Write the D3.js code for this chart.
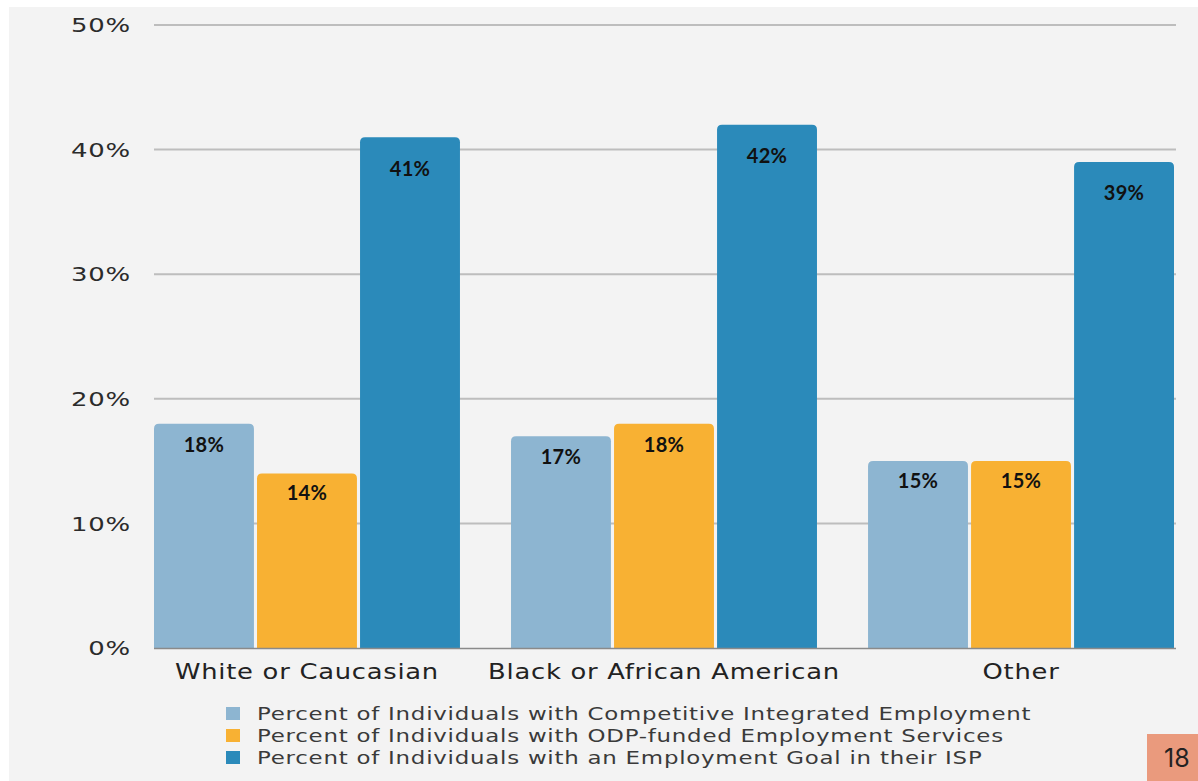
<!DOCTYPE html>
<html>
<head>
<meta charset="utf-8">
<script src="https://cdn.jsdelivr.net/npm/d3@7"></script>
<style>
  html, body { margin: 0; padding: 0; background: #ffffff; }
  svg { display: block; }
</style>
</head>
<body>
<div id="chart"></div>
<script>
'use strict';

var categories = ['White or Caucasian', 'Black or African American', 'Other'];
var seriesNames = [
    'Percent of Individuals with Competitive Integrated Employment',
    'Percent of Individuals with ODP-funded Employment Services',
    'Percent of Individuals with an Employment Goal in their ISP'
];
var competitive = [18, 17, 15];
var odpFunded = [14, 18, 15];
var employmentGoal = [41, 42, 39];
var yTicks = [0, 10, 20, 30, 40, 50];
var pageNumber = '18';

var colors = ['#8db5d1', '#f8b133', '#2b8aba'];
var series = [competitive, odpFunded, employmentGoal];
var wideFont = '"DejaVu Sans", sans-serif';

var W = 1198, H = 781;
var svg = d3.select('#chart').append('svg').attr('width', W).attr('height', H);

// panel background
svg.append('rect').attr('x', 9).attr('y', 7).attr('width', W - 9).attr('height', H - 7).attr('fill', '#f3f3f3');

var x0 = d3.scaleBand().domain(categories).range([154, 1174]).paddingInner(0.143).paddingOuter(0);
var x1 = d3.scaleBand().domain(d3.range(3)).range([0, x0.bandwidth()]).paddingInner(0.03);
var y = d3.scaleLinear().domain([0, 50]).range([648, 25]);

// stretch a group of texts horizontally so the first one gets the wanted width
function stretch(sel, wanted) {
    var w = sel.node().getComputedTextLength();
    var k = wanted / w;
    sel.each(function () {
        var t = d3.select(this);
        var tx = +t.attr('x'), ty = +t.attr('y');
        t.attr('x', 0).attr('y', 0)
            .attr('transform', 'translate(' + tx + ',' + ty + ') scale(' + k + ',1)');
    });
}

// grid
svg.append('g').selectAll('line').data(yTicks.slice(1)).enter().append('line')
    .attr('x1', 154).attr('x2', 1176)
    .attr('y1', function (d) { return y(d); }).attr('y2', function (d) { return y(d); })
    .attr('stroke', '#bdbdbd').attr('stroke-width', 2);

// y labels
var yLabels = svg.append('g').selectAll('text').data(yTicks.slice().reverse()).enter().append('text')
    .attr('x', 131).attr('y', function (d) { return y(d); }).attr('dy', '0.36em')
    .attr('text-anchor', 'end')
    .attr('font-family', wideFont).attr('font-size', 20)
    .attr('letter-spacing', 0.6)
    .attr('fill', '#2b2b2b')
    .text(function (d) { return d + '%'; });
stretch(yLabels, 60);

function topRounded(x, yTop, w, h, r) {
    var b = yTop + h;
    return 'M' + x + ',' + b +
        'V' + (yTop + r) +
        'Q' + x + ',' + yTop + ' ' + (x + r) + ',' + yTop +
        'H' + (x + w - r) +
        'Q' + (x + w) + ',' + yTop + ' ' + (x + w) + ',' + (yTop + r) +
        'V' + b + 'Z';
}

var groups = svg.append('g').selectAll('g').data(categories).enter().append('g')
    .attr('transform', function (d) { return 'translate(' + x0(d) + ',0)'; });

groups.each(function (cat, ci) {
    var g = d3.select(this);
    series.forEach(function (vals, si) {
        var v = vals[ci];
        var bx = x1(si), bw = x1.bandwidth();
        var h = y(0) - y(v);
        g.append('path')
            .attr('d', topRounded(bx, y(v), bw, h, 5))
            .attr('fill', colors[si]);
        // label sits a little lower in taller bars
        g.append('text')
            .attr('x', bx + bw / 2).attr('y', y(v) + 14 + h * 0.034)
            .attr('dy', '0.35em')
            .attr('text-anchor', 'middle')
            .attr('font-family', 'Lato, sans-serif').attr('font-weight', 'bold').attr('font-size', 20)
            .attr('letter-spacing', 0.3)
            .attr('fill', '#111')
            .text(v + '%');
    });
});

// baseline
svg.append('line').attr('x1', 154).attr('x2', 1176).attr('y1', y(0) + 0.5).attr('y2', y(0) + 0.5)
    .attr('stroke', '#8a8a8a').attr('stroke-width', 1.5);

// category labels
var catLabels = svg.append('g').selectAll('text').data(categories).enter().append('text')
    .attr('x', function (d) { return x0(d) + x0.bandwidth() / 2; })
    .attr('y', 679)
    .attr('text-anchor', 'middle')
    .attr('font-family', wideFont).attr('font-size', 21)
    .attr('letter-spacing', 0.6)
    .attr('fill', '#222')
    .text(function (d) { return d; });
stretch(catLabels, 264);

// legend
var legend = svg.append('g');
legend.selectAll('rect').data(seriesNames).enter().append('rect')
    .attr('x', 226).attr('y', function (d, i) { return 707 + i * 22; })
    .attr('width', 14).attr('height', 13)
    .attr('fill', function (d, i) { return colors[i]; });
var legendText = legend.selectAll('text').data(seriesNames).enter().append('text')
    .attr('x', 257).attr('y', function (d, i) { return 720 + i * 22; })
    .attr('font-family', wideFont).attr('font-size', 18)
    .attr('letter-spacing', 0.6)
    .attr('fill', '#3a3a3a')
    .text(function (d) { return d; });
stretch(legendText, 775);

// page number
svg.append('rect').attr('x', 1147).attr('y', 734).attr('width', 51).attr('height', 47).attr('fill', '#ea9a7d');
svg.append('text').attr('x', 1164).attr('y', 767)
    .attr('font-family', 'Inter, sans-serif').attr('font-size', 25).attr('fill', '#222')
    .text(pageNumber);
</script>
</body>
</html>
